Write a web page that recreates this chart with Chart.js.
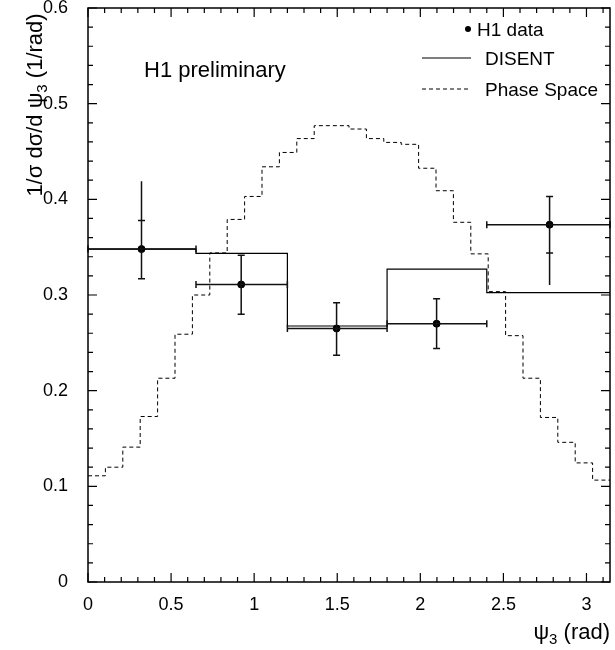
<!DOCTYPE html>
<html>
<head>
<meta charset="utf-8">
<title>psi3 distribution</title>
<script src="https://cdn.jsdelivr.net/npm/chart.js@4.4.0/dist/chart.umd.min.js"></script>
<style>
    html, body { margin: 0; padding: 0; background: #fff; }
    #wrap { width: 615px; height: 650px; }
</style>
</head>
<body>
<div id="wrap"><canvas id="chart" width="615" height="650"></canvas></div>
<script>
const PI = Math.PI;

// Phase Space histogram: 30 equal bins over [0, pi]
const phaseSpaceValues = [
    0.111, 0.120, 0.141, 0.173, 0.213, 0.259, 0.300, 0.344, 0.379, 0.403,
    0.434, 0.449, 0.4635, 0.477, 0.477, 0.4735, 0.4635, 0.4595, 0.4575, 0.4325,
    0.409, 0.376, 0.343, 0.3035, 0.2575, 0.213, 0.172, 0.146, 0.1245, 0.1065
];

// DISENT histogram, same binning as the data
const binEdges = [0, 0.65, 1.2, 1.8, 2.4, PI];
const disentValues = [0.348, 0.3435, 0.2676, 0.327, 0.3024];

// H1 data
const dataX = [0.322, 0.922, 1.496, 2.098, 2.778];
const dataY = [0.348, 0.311, 0.265, 0.270, 0.3735];
const statLow = [0.317, 0.280, 0.237, 0.244, 0.344];
const statHigh = [0.378, 0.3415, 0.292, 0.296, 0.403];
const totalLow = [0.317, 0.280, 0.237, 0.244, 0.3105];
const totalHigh = [0.419, 0.3415, 0.292, 0.296, 0.403];

const FONT = '"Liberation Sans", Arial, Helvetica, sans-serif';

// turn a list of bin values into points for a stepped line
function histPoints(edges, values) {
    const pts = values.map((v, i) => ({ x: edges[i], y: v }));
    pts.push({ x: edges[edges.length - 1], y: values[values.length - 1] });
    return pts;
}

const phaseEdges = phaseSpaceValues.map((v, i) => i * PI / phaseSpaceValues.length);
phaseEdges.push(PI);

// "1" instead of "1.0"
const plainNumber = value => String(Number(value.toFixed(2)));

/**
 * Frame, inward ticks, error bars and the texts
 */
const decorations = {
    id: 'decorations',
    afterDatasetsDraw(chart) {
        const ctx = chart.ctx;
        const xs = chart.scales.x;
        const ys = chart.scales.y;

        // error bars
        ctx.save();
        ctx.strokeStyle = '#111';
        ctx.lineWidth = 1.5;
        dataX.forEach((x, i) => {
            const px = xs.getPixelForValue(x);
            const py = ys.getPixelForValue(dataY[i]);
            const l = xs.getPixelForValue(binEdges[i]);
            const r = xs.getPixelForValue(binEdges[i + 1]);
            ctx.beginPath();
            ctx.moveTo(l, py); ctx.lineTo(r, py);
            ctx.moveTo(l, py - 3.5); ctx.lineTo(l, py + 3.5);
            ctx.moveTo(r, py - 3.5); ctx.lineTo(r, py + 3.5);
            // total error
            ctx.moveTo(px, ys.getPixelForValue(totalLow[i]));
            ctx.lineTo(px, ys.getPixelForValue(totalHigh[i]));
            // stat error with caps
            const sl = ys.getPixelForValue(statLow[i]);
            const sh = ys.getPixelForValue(statHigh[i]);
            ctx.moveTo(px - 3.5, sl); ctx.lineTo(px + 3.5, sl);
            ctx.moveTo(px - 3.5, sh); ctx.lineTo(px + 3.5, sh);
            ctx.stroke();
        });
        ctx.restore();
    },
    afterDraw(chart) {
        const ctx = chart.ctx;
        const a = chart.chartArea;
        const xs = chart.scales.x;
        const ys = chart.scales.y;

        ctx.save();
        ctx.strokeStyle = '#000';
        ctx.lineWidth = 1.5;
        ctx.strokeRect(a.left, a.top, a.right - a.left, a.bottom - a.top);

        // inward ticks
        ctx.lineWidth = 1.2;
        ctx.beginPath();
        for (let i = 0; i <= 31; i++) {
            const px = xs.getPixelForValue(i / 10);
            const len = i % 5 === 0 ? 9 : 5;
            ctx.moveTo(px, a.bottom); ctx.lineTo(px, a.bottom - len);
            ctx.moveTo(px, a.top); ctx.lineTo(px, a.top + len);
        }
        for (let i = 0; i <= 30; i++) {
            const py = ys.getPixelForValue(i * 0.02);
            const len = i % 5 === 0 ? 9 : 5;
            ctx.moveTo(a.left, py); ctx.lineTo(a.left + len, py);
            ctx.moveTo(a.right, py); ctx.lineTo(a.right - len, py);
        }
        ctx.stroke();

        // label
        ctx.fillStyle = '#000';
        ctx.textBaseline = 'alphabetic';
        ctx.font = '22px ' + FONT;
        ctx.fillText('H1 preliminary', 144, 77);

        // legend
        ctx.font = '19px ' + FONT;
        ctx.beginPath();
        ctx.arc(468, 29, 3, 0, 2 * PI);
        ctx.fill();
        ctx.fillText('H1 data', 477, 36);
        ctx.lineWidth = 1.2;
        ctx.beginPath();
        ctx.moveTo(422, 58); ctx.lineTo(471, 58);
        ctx.stroke();
        ctx.fillText('DISENT', 485, 65);
        ctx.lineWidth = 1;
        ctx.setLineDash([4, 3]);
        ctx.beginPath();
        ctx.moveTo(422, 89); ctx.lineTo(471, 89);
        ctx.stroke();
        ctx.setLineDash([]);
        ctx.fillText('Phase Space', 485, 96);

        // x title, right aligned
        const big = '22px ' + FONT;
        const small = '15px ' + FONT;
        ctx.font = big;
        const wPsi = ctx.measureText('ψ').width;
        const wRad = ctx.measureText(' (rad)').width;
        ctx.font = small;
        const wSub = ctx.measureText('3').width;
        let x0 = a.right - (wPsi + wSub + wRad);
        ctx.font = big;
        ctx.fillText('ψ', x0, 639);
        ctx.font = small;
        ctx.fillText('3', x0 + wPsi, 644);
        ctx.font = big;
        ctx.fillText(' (rad)', x0 + wPsi + wSub, 639);

        // y title, rotated
        ctx.translate(42, 105);
        ctx.rotate(-PI / 2);
        ctx.font = big;
        const wA = ctx.measureText('1/σ dσ/d ψ').width;
        const wB = ctx.measureText(' (1/rad)').width;
        ctx.font = small;
        const wS = ctx.measureText('3').width;
        let y0 = -(wA + wS + wB) / 2;
        ctx.font = big;
        ctx.fillText('1/σ dσ/d ψ', y0, 0);
        ctx.font = small;
        ctx.fillText('3', y0 + wA, 5);
        ctx.font = big;
        ctx.fillText(' (1/rad)', y0 + wA + wS, 0);
        ctx.restore();
    }
};

new Chart(document.getElementById('chart'), {
    type: 'line',
    data: {
        datasets: [
            {
                label: 'Phase Space',
                data: histPoints(phaseEdges, phaseSpaceValues),
                stepped: 'before',
                borderColor: '#000',
                borderWidth: 1,
                borderDash: [4, 3],
                pointRadius: 0,
                fill: false
            },
            {
                label: 'DISENT',
                data: histPoints(binEdges, disentValues),
                stepped: 'before',
                borderColor: '#000',
                borderWidth: 1.2,
                pointRadius: 0,
                fill: false
            },
            {
                label: 'H1 data',
                type: 'scatter',
                data: dataX.map((x, i) => ({ x: x, y: dataY[i] })),
                pointRadius: 3.5,
                pointBackgroundColor: '#000',
                pointBorderColor: '#000',
                showLine: false
            }
        ]
    },
    options: {
        responsive: false,
        animation: false,
        devicePixelRatio: 1,
        layout: { padding: { left: 0, top: 8, right: 3, bottom: 0 } },
        plugins: {
            legend: { display: false },
            tooltip: { enabled: false }
        },
        scales: {
            x: {
                type: 'linear',
                min: 0,
                max: PI,
                grid: { display: false, drawTicks: false },
                border: { display: false },
                ticks: {
                    stepSize: 0.5,
                    includeBounds: false,
                    padding: 12,
                    color: '#000',
                    maxRotation: 0,
                    font: { family: FONT, size: 18 },
                    callback: plainNumber
                },
                afterFit(scale) {
                    scale.height = 68;
                    scale.paddingLeft = 0;
                    scale.paddingRight = 0;
                }
            },
            y: {
                min: 0,
                max: 0.6,
                grid: { display: false, drawTicks: false },
                border: { display: false },
                ticks: {
                    stepSize: 0.1,
                    padding: 20,
                    color: '#000',
                    font: { family: FONT, size: 18 },
                    callback: plainNumber
                },
                afterFit(scale) {
                    scale.width = 88;
                    scale.paddingTop = 0;
                    scale.paddingBottom = 0;
                }
            }
        }
    },
    plugins: [decorations]
});
</script>
</body>
</html>
